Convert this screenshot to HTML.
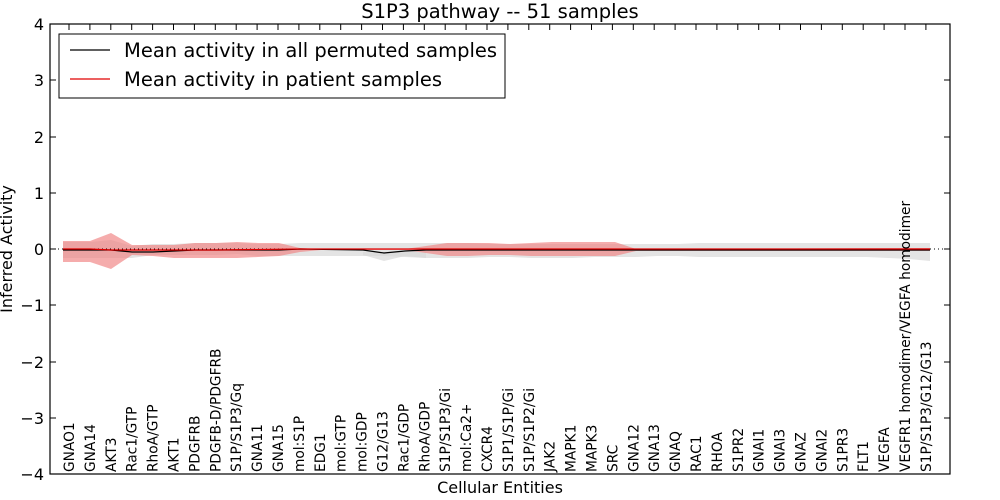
<!DOCTYPE html>
<html><head><meta charset="utf-8"><style>
body{margin:0;background:#fff;}
svg{display:block;font-family:"DejaVu Sans","Liberation Sans",sans-serif;}
</style></head><body>
<svg width="1000" height="500" viewBox="0 0 1000 500">
<rect width="1000" height="500" fill="#fff"/>
<text x="500" y="18" font-size="19.5" text-anchor="middle">S1P3 pathway -- 51 samples</text>
<polygon fill="#d9d9d9" fill-opacity="0.7" points="63,242 90,242 111,240 132,246 153,244 174,244 195,243 216,243 237,243 258,244 279,244 300,243 321,243 342,243 363,243 384,243 405,243 426,243 447,243 468,243 489,244 510,244 531,244 552,244 573,244 594,244 615,244 636,244 657,244 678,244 699,243 720,243 741,243 762,243 783,243 804,243 825,243 846,243 867,243 888,243 909,243 930,243 930,261 909,259 888,258 867,257 846,257 825,257 804,257 783,257 762,257 741,257 720,257 699,257 678,256 657,256 636,257 615,257 594,257 573,258 552,258 531,258 510,257 489,257 468,258 447,258 426,258 405,257 384,256 363,256 342,256 321,256 300,256 279,256 258,256 237,254 216,255 195,255 174,255 153,255 132,258 111,258 90,258 63,258"/>
<polygon fill="#d9d9d9" fill-opacity="0.7" points="363,255 384,261 405,256 426,258 426,252 405,252 384,252 363,252"/>
<polygon fill="#f08080" fill-opacity="0.65" points="63,241 90,241 111,233 132,245 153,245 174,245 195,243 216,243 237,242 258,243 279,243 300,248 321,249 405,249 426,246 447,243 468,243 489,243 510,244 531,243 552,242 573,242 594,242 615,242 636,249 930,248 930,251 636,251 615,256 594,256 573,256 552,256 531,256 510,255 489,255 468,256 447,256 426,253 405,250 321,250 300,252 279,256 258,257 237,258 216,258 195,258 174,258 153,256 132,255 111,269 90,262 63,262"/>
<line x1="50" y1="249" x2="950" y2="249" stroke="#000" stroke-width="1" stroke-dasharray="1,3"/>
<polyline fill="none" stroke="#000" stroke-width="1.2" points="63,250 90,250 111,250 132,252 153,252 174,251 195,250 216,250 237,250 258,250 279,250 300,249 363,250 384,253 405,251 426,250 447,250 468,250 552,250 636,250 930,250"/>
<polyline fill="none" stroke="#e00000" stroke-width="1.2" points="63,249 90,249 111,250 132,250 153,250 174,250 195,250 216,250 300,249 930,249"/>
<rect x="50" y="24" width="900" height="450" fill="none" stroke="#000" stroke-width="1.2"/>
<g stroke="#000" stroke-width="1">
<line x1="50" y1="80" x2="56" y2="80"/><line x1="950" y1="80" x2="944" y2="80"/>
<line x1="50" y1="137" x2="56" y2="137"/><line x1="950" y1="137" x2="944" y2="137"/>
<line x1="50" y1="193" x2="56" y2="193"/><line x1="950" y1="193" x2="944" y2="193"/>
<line x1="50" y1="249" x2="56" y2="249"/><line x1="950" y1="249" x2="944" y2="249"/>
<line x1="50" y1="305" x2="56" y2="305"/><line x1="950" y1="305" x2="944" y2="305"/>
<line x1="50" y1="362" x2="56" y2="362"/><line x1="950" y1="362" x2="944" y2="362"/>
<line x1="50" y1="418" x2="56" y2="418"/><line x1="950" y1="418" x2="944" y2="418"/>
</g>
<g font-size="16" text-anchor="end">
<text x="44" y="30">4</text><text x="44" y="86">3</text><text x="44" y="143">2</text><text x="44" y="199">1</text><text x="44" y="255">0</text><text x="44" y="311">−1</text><text x="44" y="368">−2</text><text x="44" y="424">−3</text><text x="44" y="480">−4</text>
</g>
<text x="500" y="493" font-size="16" text-anchor="middle">Cellular Entities</text>
<text transform="translate(12,249) rotate(-90)" font-size="16" text-anchor="middle">Inferred Activity</text>
<g stroke="#000" stroke-width="1">
<path d="M69,24v6M89.9,24v6M110.8,24v6M131.7,24v6M152.6,24v6M173.5,24v6M194.4,24v6M215.3,24v6M236.2,24v6M257.1,24v6M278,24v6M298.9,24v6M319.8,24v6M340.7,24v6M361.6,24v6M382.5,24v6M403.4,24v6M424.3,24v6M445.2,24v6M466.1,24v6M487,24v6M507.9,24v6M528.8,24v6M549.7,24v6M570.6,24v6M591.5,24v6M612.4,24v6M633.3,24v6M654.2,24v6M675.1,24v6M696,24v6M716.9,24v6M737.8,24v6M758.7,24v6M779.6,24v6M800.5,24v6M821.4,24v6M842.3,24v6M863.2,24v6M884.1,24v6M905,24v6M925.9,24v6"/>
</g>
<g font-size="13.75">
<text transform="translate(74,472) rotate(-90)">GNAO1</text>
<text transform="translate(94.9,472) rotate(-90)">GNA14</text>
<text transform="translate(115.8,472) rotate(-90)">AKT3</text>
<text transform="translate(136.7,472) rotate(-90)">Rac1/GTP</text>
<text transform="translate(157.6,472) rotate(-90)">RhoA/GTP</text>
<text transform="translate(178.5,472) rotate(-90)">AKT1</text>
<text transform="translate(199.4,472) rotate(-90)">PDGFRB</text>
<text transform="translate(220.3,472) rotate(-90)">PDGFB-D/PDGFRB</text>
<text transform="translate(241.2,472) rotate(-90)">S1P/S1P3/Gq</text>
<text transform="translate(262.1,472) rotate(-90)">GNA11</text>
<text transform="translate(283,472) rotate(-90)">GNA15</text>
<text transform="translate(303.9,472) rotate(-90)">mol:S1P</text>
<text transform="translate(324.8,472) rotate(-90)">EDG1</text>
<text transform="translate(345.7,472) rotate(-90)">mol:GTP</text>
<text transform="translate(366.6,472) rotate(-90)">mol:GDP</text>
<text transform="translate(387.5,472) rotate(-90)">G12/G13</text>
<text transform="translate(408.4,472) rotate(-90)">Rac1/GDP</text>
<text transform="translate(429.3,472) rotate(-90)">RhoA/GDP</text>
<text transform="translate(450.2,472) rotate(-90)">S1P/S1P3/Gi</text>
<text transform="translate(471.1,472) rotate(-90)">mol:Ca2+</text>
<text transform="translate(492,472) rotate(-90)">CXCR4</text>
<text transform="translate(512.9,472) rotate(-90)">S1P1/S1P/Gi</text>
<text transform="translate(533.8,472) rotate(-90)">S1P/S1P2/Gi</text>
<text transform="translate(554.7,472) rotate(-90)">JAK2</text>
<text transform="translate(575.6,472) rotate(-90)">MAPK1</text>
<text transform="translate(596.5,472) rotate(-90)">MAPK3</text>
<text transform="translate(617.4,472) rotate(-90)">SRC</text>
<text transform="translate(638.3,472) rotate(-90)">GNA12</text>
<text transform="translate(659.2,472) rotate(-90)">GNA13</text>
<text transform="translate(680.1,472) rotate(-90)">GNAQ</text>
<text transform="translate(701,472) rotate(-90)">RAC1</text>
<text transform="translate(721.9,472) rotate(-90)">RHOA</text>
<text transform="translate(742.8,472) rotate(-90)">S1PR2</text>
<text transform="translate(763.7,472) rotate(-90)">GNAI1</text>
<text transform="translate(784.6,472) rotate(-90)">GNAI3</text>
<text transform="translate(805.5,472) rotate(-90)">GNAZ</text>
<text transform="translate(826.4,472) rotate(-90)">GNAI2</text>
<text transform="translate(847.3,472) rotate(-90)">S1PR3</text>
<text transform="translate(868.2,472) rotate(-90)">FLT1</text>
<text transform="translate(889.1,472) rotate(-90)">VEGFA</text>
<text transform="translate(910,472) rotate(-90)">VEGFR1 homodimer/VEGFA homodimer</text>
<text transform="translate(930.9,472) rotate(-90)">S1P/S1P3/G12/G13</text>
</g>
<rect x="59" y="34" width="446" height="64" fill="#fff" stroke="#000" stroke-width="1"/>
<line x1="70" y1="50" x2="110" y2="50" stroke="#000" stroke-width="1.2"/>
<line x1="70" y1="79" x2="110" y2="79" stroke="#e00000" stroke-width="1.2"/>
<text x="124" y="57" font-size="19.5">Mean activity in all permuted samples</text>
<text x="124" y="86" font-size="19.5">Mean activity in patient samples</text>
</svg>
</body></html>
